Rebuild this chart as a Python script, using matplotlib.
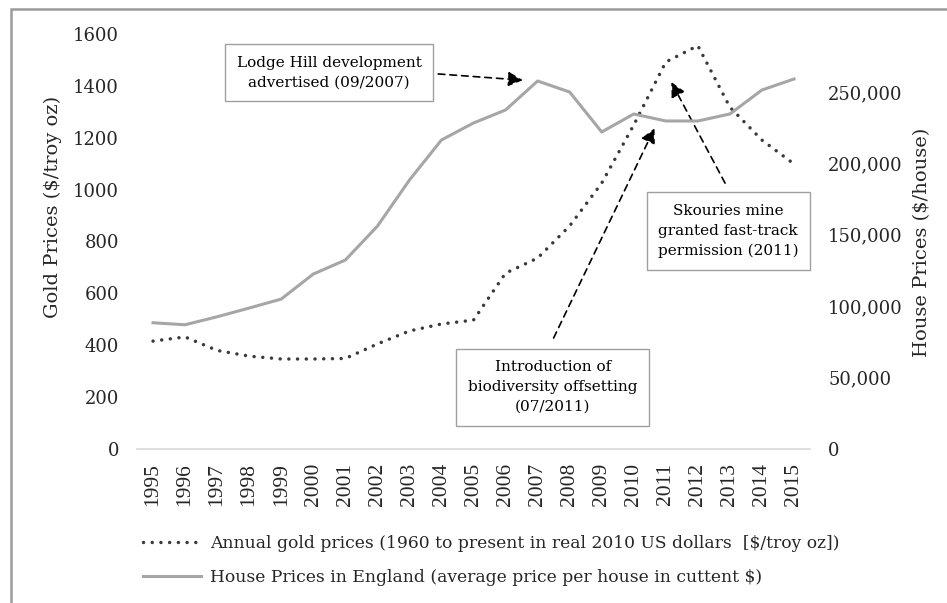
import matplotlib
matplotlib.use("Agg")
import matplotlib.pyplot as plt
from matplotlib.patches import Rectangle
from matplotlib.lines import Line2D

years = list(range(1995, 2016))
gold = [416, 432, 380, 358, 347, 347, 349, 405, 455, 482, 497, 678, 736, 860,
        1025, 1249, 1492, 1555, 1318, 1191, 1099]
house = [88400, 87000, 92600, 98700, 105000, 122500, 132300, 156000, 188300,
         216400, 228300, 237400, 257700, 250000, 222000, 234600, 229700,
         229700, 234600, 251400, 259100]
gold_ticks = [0, 200, 400, 600, 800, 1000, 1200, 1400, 1600]
house_ticks = [0, 50000, 100000, 150000, 200000, 250000]

gold_label = "Annual gold prices (1960 to present in real 2010 US dollars  [$/troy oz])"
house_label = "House Prices in England (average price per house in cuttent $)"

plt.rcParams['font.family'] = ["DejaVu Serif"]

fig = plt.figure(figsize=(9.47, 6.03), dpi=100)
ax = fig.add_axes([137/947, 1 - 449/603, (810-137)/947, (449-34)/603])
ax2 = ax.twinx()

gold_c = "#3a3a3a"
house_c = "#a6a6a6"
txt_c = "#262626"
dots = (0, (0.01, 2.5))

ax.plot(years, gold, color=gold_c, lw=2.5, linestyle=dots,
        dash_capstyle="round", zorder=3)
ax2.plot(years, house, color=house_c, lw=2.2, zorder=2)

ax.set_xlim(1994.5, 2015.5)
ax.set_ylim(0, 1600)
# same pixel height on both sides: 250,000 sits at y=92px, 1600 at y=34px
ax2.set_ylim(0, 250000 / (449 - 92) * (449 - 34))

for a in (ax, ax2):
    for s in a.spines.values():
        s.set_visible(False)
    a.tick_params(length=0, colors=txt_c, labelsize=13)

ax.set_yticks(gold_ticks)
ax.set_yticklabels([str(v) for v in gold_ticks])
ax2.set_yticks(house_ticks)
ax2.set_yticklabels([f"{v:,}" for v in house_ticks])
ax.set_xticks(years)
ax.set_xticklabels([str(y) for y in years], rotation=90,
                   family="Liberation Serif", fontsize=15.5)

ax.spines['bottom'].set_visible(True)
ax.spines['bottom'].set_color("#d9d9d9")
ax.spines['bottom'].set_linewidth(1.2)
ax.tick_params(axis='y', pad=13)
ax.tick_params(axis='x', pad=10)
ax2.tick_params(axis='y', pad=13)

ax.set_ylabel("Gold Prices ($/troy oz)", fontsize=14, color=txt_c)
ax2.set_ylabel("House Prices ($/house)", fontsize=14, color=txt_c)
ax.yaxis.set_label_coords(-0.111, 0.583)
ax2.yaxis.set_label_coords(1.153, 0.499)

box = dict(boxstyle="square,pad=0.75", fc="white", ec="#a0a0a0", lw=1.0)
note_style = dict(ha="center", va="center", fontsize=11, color="black",
                  bbox=box, linespacing=1.55, zorder=5)
ax.text(2000.5, 1451, "Lodge Hill development\nadvertised (09/2007)", **note_style)
ax.text(2007.47, 239, "Introduction of\nbiodiversity offsetting\n(07/2011)", **note_style)
ax.text(2012.95, 840, "Skouries mine\ngranted fast-track\npermission (2011)", **note_style)

arrow = dict(arrowstyle="-|>", linestyle=(0, (4, 3)), color="black", lw=1.2,
             mutation_scale=22, shrinkA=0, shrinkB=0)
ax.annotate("", xy=(2006.54, 1422), xytext=(2003.9, 1446), arrowprops=arrow, zorder=6)
ax.annotate("", xy=(2010.65, 1237), xytext=(2007.5, 428), arrowprops=arrow, zorder=6)
ax.annotate("", xy=(2011.17, 1415), xytext=(2012.85, 1025), arrowprops=arrow, zorder=6)

handles = [Line2D([], [], color=gold_c, lw=2.5, linestyle=dots,
                  dash_capstyle="round"),
           Line2D([], [], color=house_c, lw=2.2)]
fig.legend(handles, [gold_label, house_label], loc="upper left",
           bbox_to_anchor=(128/947, 1 - 520/603), frameon=False,
           fontsize=12.3, handlelength=3.4, handletextpad=0.5,
           labelspacing=0.95, labelcolor=txt_c)

fig.patches.append(Rectangle((11/947, -0.1), 1.2, 1 - 9/603 + 0.1,
                             transform=fig.transFigure, fill=False,
                             ec="#9a9a9a", lw=1.8))

fig.savefig("out.png", dpi=100)
